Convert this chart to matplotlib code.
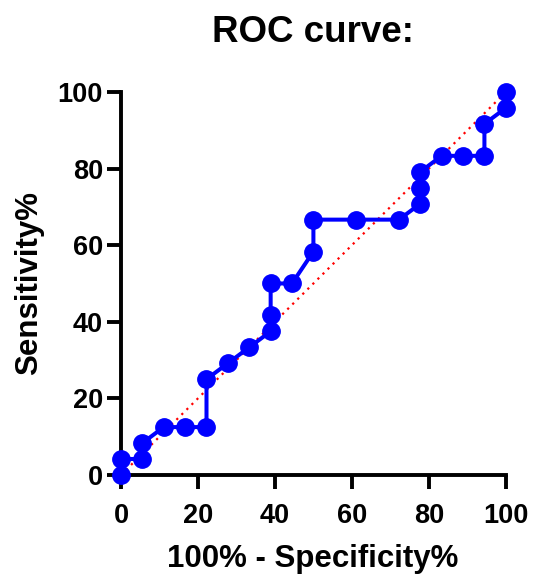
import numpy as np
import matplotlib.pyplot as plt

plt.rcParams['font.family'] = ['Liberation Sans', 'DejaVu Sans']
plt.rcParams['font.weight'] = 'bold'

# ROC points (100% - Specificity%, Sensitivity%)
fpr = [0, 0, 5.56, 5.56, 11.11, 16.67, 22.22, 22.22, 27.78, 33.33, 38.89, 38.89,
       38.89, 44.44, 50.0, 50.0, 61.11, 72.22, 77.78, 77.78, 77.78, 83.33, 88.89,
       94.44, 94.44, 100, 100]
tpr = [0, 4.17, 4.17, 8.33, 12.5, 12.5, 12.5, 25.0, 29.17, 33.33, 37.5, 41.67,
       50.0, 50.0, 58.33, 66.67, 66.67, 66.67, 70.83, 75.0, 79.17, 83.33, 83.33,
       83.33, 91.67, 95.83, 100]
ticks = [0, 20, 40, 60, 80, 100]

fig = plt.figure(figsize=(5.33, 5.75), dpi=100)
ax = fig.add_axes([0.227, 0.174, 0.722, 0.666])

ax.plot([0, 100], [0, 100], color='red', linestyle=(0, (1, 2.2)), lw=1.6, zorder=1)
ax.plot(fpr, tpr, color='#0000ff', lw=2.9, marker='o', markersize=12.5,
        clip_on=False, zorder=3)

ax.set_xlim(0, 100)
ax.set_ylim(0, 100)
ax.set_xticks(ticks)
ax.set_yticks(ticks)
for s in ['top', 'right']:
    ax.spines[s].set_visible(False)
for s in ['left', 'bottom']:
    ax.spines[s].set_linewidth(2.8)
ax.tick_params(width=2.8, length=10, labelsize=19.5)
ax.tick_params(axis='x', pad=10)
ax.tick_params(axis='y', pad=3)
for lbl in ax.get_xticklabels() + ax.get_yticklabels():
    lbl.set_fontweight('bold')

fig.text(0.587, 1 - 42 / 575, 'ROC curve:', fontsize=26.5, fontweight='bold',
         ha='center', va='baseline')
fig.text(0.587, 1 - 567 / 575, '100% - Specificity%', fontsize=22.5,
         fontweight='bold', ha='center', va='baseline')
ax.set_ylabel('Sensitivity%', fontsize=22.5, fontweight='bold', labelpad=10)

fig.savefig('out.png', dpi=100)
